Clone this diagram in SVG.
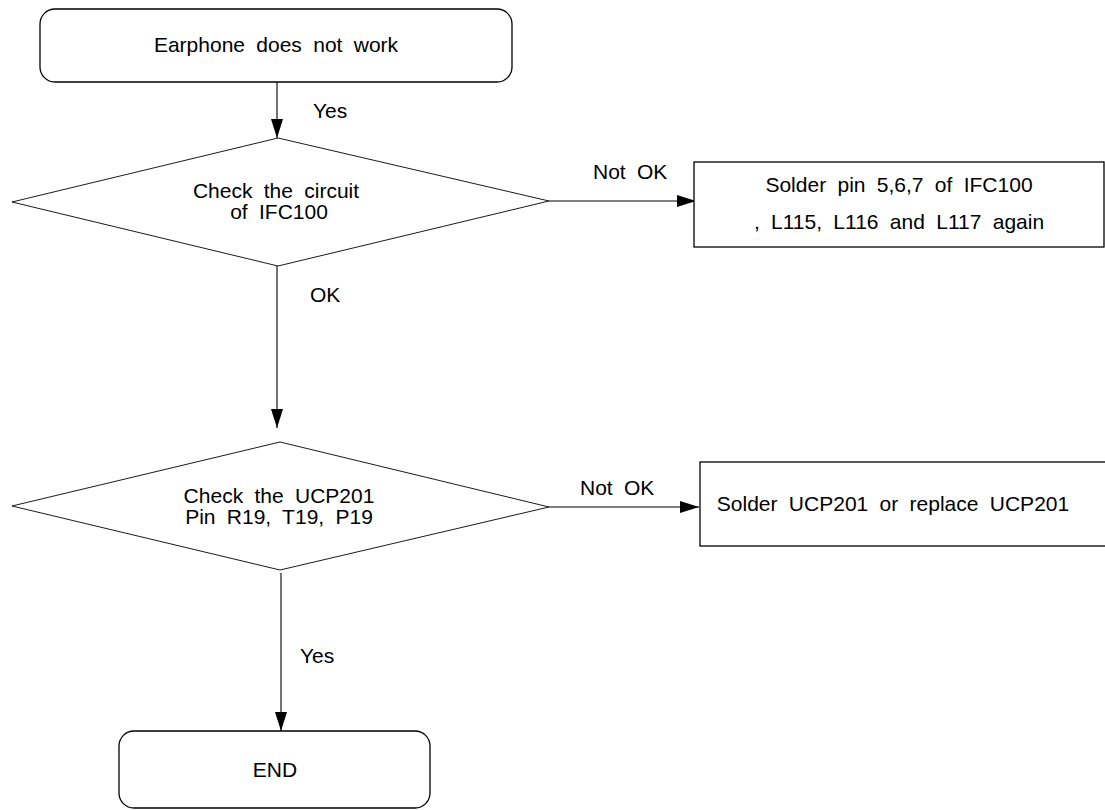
<svg xmlns="http://www.w3.org/2000/svg" width="1105" height="810" viewBox="0 0 1105 810">
<style>
  .box{fill:#fff;stroke:#000;stroke-width:1.3}
  .dia{fill:#fff;stroke:#000;stroke-width:0.9}
  .t{font-family:"Liberation Sans",Arial,sans-serif;font-size:21px;fill:#000;word-spacing:5.5px}
  .c{text-anchor:middle}
  .ln{stroke:#000;stroke-width:1.1;fill:none;marker-end:url(#arr)}
</style>
<defs>
  <marker id="arr" markerUnits="userSpaceOnUse" markerWidth="20" markerHeight="14" refX="19" refY="6" orient="auto">
    <path d="M0,0 L19,6 L0,12 Z" fill="#000"/>
  </marker>
</defs>
<rect width="1105" height="810" fill="#fff"/>
<g id="connectors">
  <line class="ln" x1="277" y1="82" x2="277" y2="138"/>
  <line class="ln" x1="549" y1="201" x2="696" y2="201"/>
  <line class="ln" x1="277" y1="266" x2="277" y2="428"/>
  <line class="ln" x1="549" y1="507" x2="699" y2="507"/>
  <line class="ln" x1="281" y1="573" x2="281" y2="731"/>
  <text class="t" x="313" y="118">Yes</text>
  <text class="t" x="593" y="179">Not OK</text>
  <text class="t" x="310" y="302">OK</text>
  <text class="t" x="580" y="495">Not OK</text>
  <text class="t" x="300" y="663">Yes</text>
</g>
<g id="start">
  <rect class="box" x="40" y="9" width="472" height="73" rx="15"/>
  <text class="t c" x="276" y="52">Earphone does not work</text>
</g>
<g id="check1">
  <polygon class="dia" points="12,202 278,138 549,201 278,266"/>
  <text class="t c" x="276" y="198">Check the circuit</text>
  <text class="t c" x="279" y="219">of IFC100</text>
</g>
<g id="fix1">
  <rect class="box" x="694" y="162" width="410" height="85"/>
  <text class="t c" x="899" y="192">Solder pin 5,6,7 of IFC100</text>
  <text class="t c" x="899" y="229">, L115, L116 and L117 again</text>
</g>
<g id="check2">
  <polygon class="dia" points="12,506 280,442 549,507 280,570"/>
  <text class="t c" x="279" y="503">Check the UCP201</text>
  <text class="t c" x="279" y="524">Pin R19, T19, P19</text>
</g>
<g id="fix2">
  <rect class="box" x="700" y="462" width="420" height="84"/>
  <text class="t c" x="893" y="511">Solder UCP201 or replace UCP201</text>
</g>
<g id="end">
  <rect class="box" x="119" y="731" width="311" height="77" rx="15"/>
  <text class="t c" x="275" y="777">END</text>
</g>
</svg>
